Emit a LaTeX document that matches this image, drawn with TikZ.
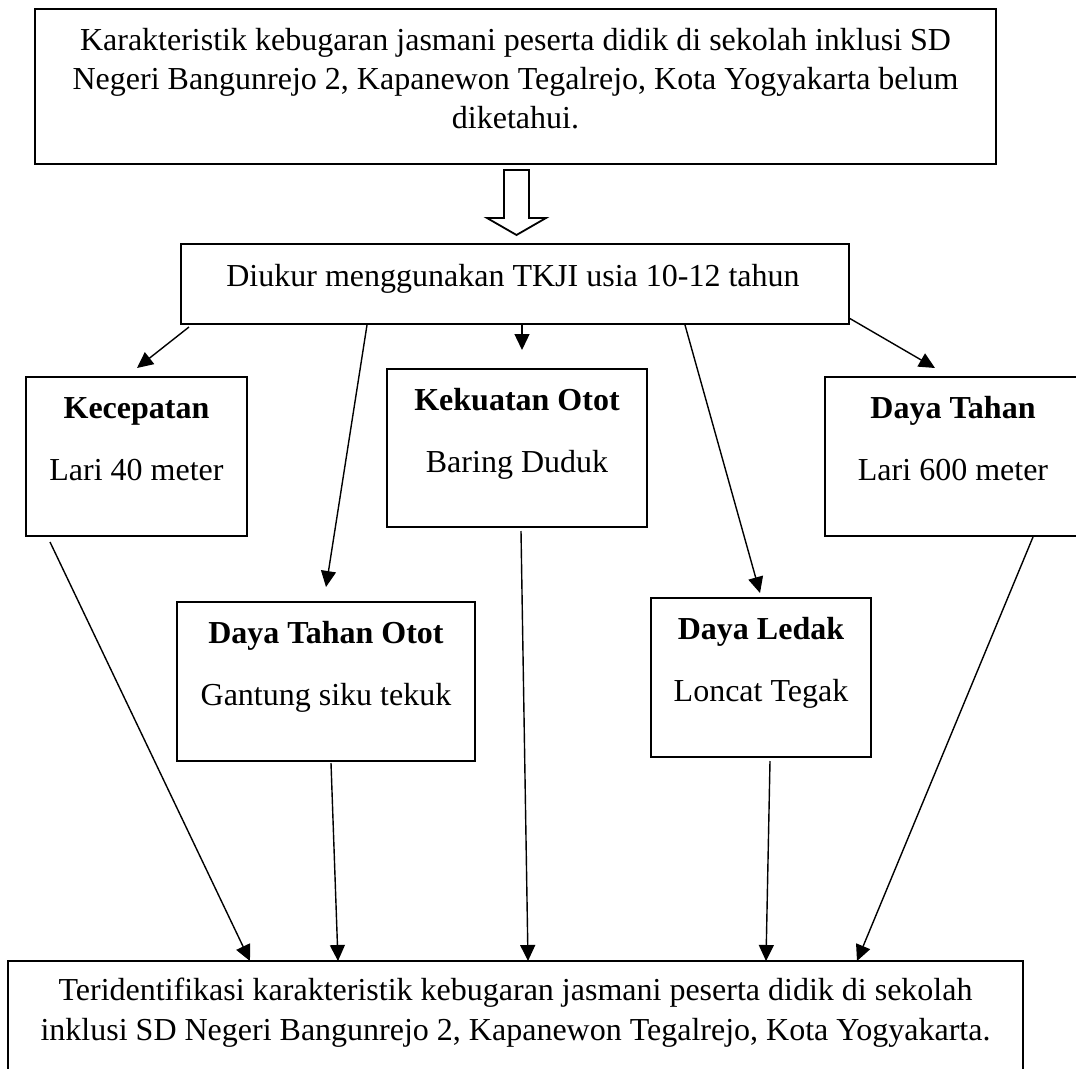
\documentclass[tikz,border=0pt]{standalone}
\usepackage{fontspec}
\setmainfont{Liberation Serif}
\usetikzlibrary{arrows.meta}
\begin{document}
\begin{tikzpicture}[x=1pt,y=-1pt,
  box/.style={draw, line width=2pt, inner sep=0pt, outer sep=0pt, anchor=north west},
  txt/.style={inner sep=0pt, anchor=base, font=\fontsize{32}{39}\selectfont},
  btxt/.style={inner sep=0pt, anchor=base, font=\fontsize{32}{39}\selectfont\bfseries},
  con/.style={line width=1.4pt, -{Triangle[length=16pt,width=15pt]}},
  hollow/.style={draw, line width=1.8pt, fill=white, line join=miter}]
\fill[white] (0,0) rectangle (1076,1068);
\useasboundingbox (0,0) rectangle (1076,1068);

% top box
\node[box, line width=2.8pt, minimum width=961pt, minimum height=155pt] (top) at (35,9) {};
\node[txt] (t1) at (515.5,50) {Karakteristik kebugaran jasmani peserta didik di sekolah inklusi SD};
\node[txt] (t2) at (515.5,89) {Negeri Bangunrejo 2, Kapanewon Tegalrejo, Kota Yogyakarta belum};
\node[txt] (t3) at (515.5,128) {diketahui.};

% hollow block arrow
\draw[hollow] (504,170) -- (529,170) -- (529,218) -- (546,218) -- (516.5,235)
  -- (487,218) -- (504,218) -- cycle;

% middle box
\node[box, minimum width=668pt, minimum height=80pt] (mid) at (181,244) {};
\node[txt] (mt) at (513,286) {Diukur menggunakan TKJI usia 10-12 tahun};

% measurement boxes
\node[box, minimum width=221pt, minimum height=159pt] (kec) at (26,377) {};
\node[btxt] (kec1) at (136.5,418) {Kecepatan};
\node[txt] (kec2) at (136.5,480) {Lari 40 meter};

\node[box, minimum width=260pt, minimum height=158pt] (kek) at (387,369) {};
\node[btxt] (kek1) at (517,410) {Kekuatan Otot};
\node[txt] (kek2) at (517,472) {Baring Duduk};

\node[box, minimum width=256pt, minimum height=159pt] (dt) at (825,377) {};
\node[btxt] (dt1) at (953,418) {Daya Tahan};
\node[txt] (dt2) at (953,480) {Lari 600 meter};

\node[box, minimum width=298pt, minimum height=159pt] (dto) at (177,602) {};
\node[btxt] (dto1) at (326,643) {Daya Tahan Otot};
\node[txt] (dto2) at (326,705) {Gantung siku tekuk};

\node[box, minimum width=220pt, minimum height=159pt] (dl) at (651,598) {};
\node[btxt] (dl1) at (761,639) {Daya Ledak};
\node[txt] (dl2) at (761,701) {Loncat Tegak};

% bottom box
\node[box, line width=2.4pt, minimum width=1015pt, minimum height=130pt] (bot) at (8,961) {};
\node[txt] (b1) at (515.5,1000) {Teridentifikasi karakteristik kebugaran jasmani peserta didik di sekolah};
\node[txt] (b2) at (515.5,1040) {inklusi SD Negeri Bangunrejo 2, Kapanewon Tegalrejo, Kota Yogyakarta.};

% connectors from middle box
\draw[con] ([xshift=8pt,yshift=-3pt]mid.south west) -- ([xshift=111pt,yshift=9pt]kec.north west);
\draw[con] ([xshift=186pt,yshift=-1pt]mid.south west) -- ([xshift=149pt,yshift=15pt]dto.north west);
\draw[con] ([xshift=341pt]mid.south west) -- ([xshift=135pt,yshift=19pt]kek.north west);
\draw[con] ([xshift=504pt,yshift=-1pt]mid.south west) -- ([xshift=109pt,yshift=5pt]dl.north west);
\draw[con] ([yshift=6pt]mid.south east) -- ([xshift=110pt,yshift=9pt]dt.north west);

% connectors to bottom box
\draw[con] ([xshift=24pt,yshift=-6pt]kec.south west) -- ([xshift=242pt]bot.north west);
\draw[con] ([xshift=154pt,yshift=-2pt]dto.south west) -- ([xshift=330pt]bot.north west);
\draw[con] ([xshift=134pt,yshift=-4pt]kek.south west) -- ([xshift=520pt]bot.north west);
\draw[con] ([xshift=119pt,yshift=-4pt]dl.south west) -- ([xshift=758pt]bot.north west);
\draw[con] ([xshift=208pt,yshift=-1pt]dt.south west) -- ([xshift=849pt]bot.north west);
\end{tikzpicture}
\end{document}
